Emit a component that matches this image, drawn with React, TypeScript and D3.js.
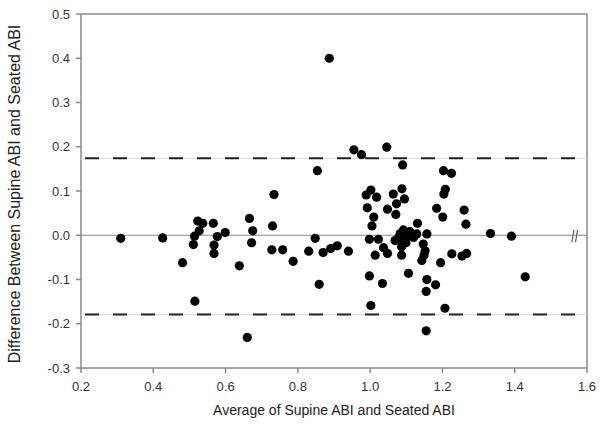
import React from "react"
import * as d3 from "d3"

// Bland-Altman: average ABI vs difference (supine - seated)
const avgAbi = [
  0.31, 0.426, 0.481, 0.515, 0.511, 0.514, 0.523, 0.537, 0.527, 0.566, 0.577, 0.568, 0.568, 0.599, 0.638,
  0.66, 0.666, 0.675, 0.672, 0.734, 0.73, 0.728, 0.758, 0.787, 0.83, 0.848, 0.854, 0.859, 0.87, 0.891,
  0.909, 0.94, 0.887,
  0.955, 0.976, 1.046, 1.09, 1.203, 1.225, 0.989, 1.002, 1.018, 0.992, 1.01, 1.005, 1.064, 1.088, 1.095,
  1.073, 1.048, 1.071, 1.208, 1.204, 1.184, 1.201, 1.26, 1.265, 1.131, 1.333, 1.391, 1.429,
  0.998, 1.023, 1.037, 1.014, 1.048, 1.069, 1.083, 1.092, 1.11, 1.129, 1.157, 1.087, 1.099, 1.087, 1.087,
  1.147, 1.152, 1.149, 1.143, 1.195, 1.226, 1.254, 1.267, 0.998, 1.034, 1.106, 1.157, 1.181, 1.155,
  1.002, 1.207, 1.155, 1.12, 1.1, 1.078
]
const diffAbi = [
  -0.007, -0.006, -0.062, -0.149, -0.021, -0.002, 0.032, 0.027, 0.01, 0.027, -0.003, -0.022, -0.041, 0.006, -0.069,
  -0.231, 0.038, 0.01, -0.017, 0.092, 0.021, -0.033, -0.033, -0.059, -0.036, -0.007, 0.146, -0.111, -0.039, -0.03,
  -0.024, -0.036, 0.4,
  0.193, 0.182, 0.199, 0.159, 0.146, 0.14, 0.091, 0.102, 0.086, 0.062, 0.041, 0.021, 0.093, 0.105, 0.082,
  0.071, 0.059, 0.047, 0.104, 0.093, 0.061, 0.041, 0.057, 0.025, 0.027, 0.004, -0.002, -0.094,
  -0.009, -0.009, -0.028, -0.045, -0.041, -0.012, 0.004, 0.012, 0.008, 0.003, 0.003, -0.015, -0.017, -0.026, -0.045,
  -0.02, -0.035, -0.045, -0.057, -0.062, -0.042, -0.047, -0.041, -0.092, -0.109, -0.086, -0.1, -0.112, -0.127,
  -0.159, -0.165, -0.216, -0.005, -0.004, -0.006
]
const xTicks = [0.2, 0.4, 0.6, 0.8, 1.0, 1.2, 1.4, 1.6]
const yTicks = [-0.3, -0.2, -0.1, 0.0, 0.1, 0.2, 0.3, 0.4, 0.5]
const upperLimit = 0.174
const lowerLimit = -0.179

export default function App() {
  const margin = { top: 14, right: 19, bottom: 63, left: 81 }
  const W = 606, H = 431
  const width = W - margin.left - margin.right
  const height = H - margin.top - margin.bottom

  const x = d3.scaleLinear().domain([0.2, 1.6]).range([0, width])
  const y = d3.scaleLinear().domain([-0.3, 0.5]).range([height, 0])

  const axisColor = "#8a8a8a"
  const font = "'Liberation Sans', Arial, sans-serif"

  return (
    <svg width={W} height={H} style={{ position: "absolute", left: 0, top: 0, background: "#fff" }}>
      <g transform={"translate(" + margin.left + "," + margin.top + ")"} fontFamily={font}>
        {/* frame */}
        <line x1={0} x2={width} y1={0} y2={0} stroke={axisColor} strokeWidth={1.5} />
        <line x1={width} x2={width} y1={0} y2={height} stroke={axisColor} strokeWidth={1.5} />
        <line x1={0} x2={0} y1={0} y2={height} stroke={axisColor} strokeWidth={1.5} />
        <line x1={0} x2={width} y1={height} y2={height} stroke={axisColor} strokeWidth={1.5} />

        {/* zero line */}
        <line x1={0} x2={width} y1={y(0)} y2={y(0)} stroke={axisColor} strokeWidth={1.2} />

        {/* limits of agreement */}
        {[upperLimit, lowerLimit].map((v, i) => (
          <g key={i}>
            <line x1={0} x2={width} y1={y(v)} y2={y(v)} stroke="#dcdcdc" strokeWidth={1} />
            <line x1={0} x2={width} y1={y(v)} y2={y(v)} stroke="#222" strokeWidth={2} strokeDasharray="14,14" strokeDashoffset={-4} />
          </g>
        ))}

        {/* break mark */}
        <g stroke="#666" strokeWidth={1.3}>
          <line x1={x(1.558)} x2={x(1.564)} y1={y(-0.016)} y2={y(0.012)} />
          <line x1={x(1.568)} x2={x(1.574)} y1={y(-0.016)} y2={y(0.012)} />
        </g>

        {/* y ticks */}
        {yTicks.map((t) => (
          <g key={"y" + t} transform={"translate(0," + y(t) + ")"}>
            <line x1={-5} x2={0} stroke={axisColor} strokeWidth={1.5} />
            <text x={-11} dy="0.35em" textAnchor="end" fontSize={13} fill="#333">
              {t.toFixed(1)}
            </text>
          </g>
        ))}

        {/* x ticks */}
        {xTicks.map((t) => (
          <g key={"x" + t} transform={"translate(" + x(t) + "," + height + ")"}>
            <line y1={0} y2={5} stroke={axisColor} strokeWidth={1.5} />
            <text y={23} textAnchor="middle" fontSize={13} fill="#333">
              {t.toFixed(1)}
            </text>
          </g>
        ))}

        {/* points */}
        {avgAbi.map((a, i) => (
          <circle key={i} cx={x(a)} cy={y(diffAbi[i])} r={4.6} fill="#000" />
        ))}

        {/* axis titles */}
        <text x={width / 2} y={height + 47} textAnchor="middle" fontSize={14} fill="#222">
          Average of Supine ABI and Seated ABI
        </text>
        <text transform={"translate(" + (-61) + "," + (height / 2 + 3) + ") rotate(-90)"} textAnchor="middle" fontSize={16} fill="#222">
          Difference Between Supine ABI and Seated ABI
        </text>
      </g>
    </svg>
  )
}
